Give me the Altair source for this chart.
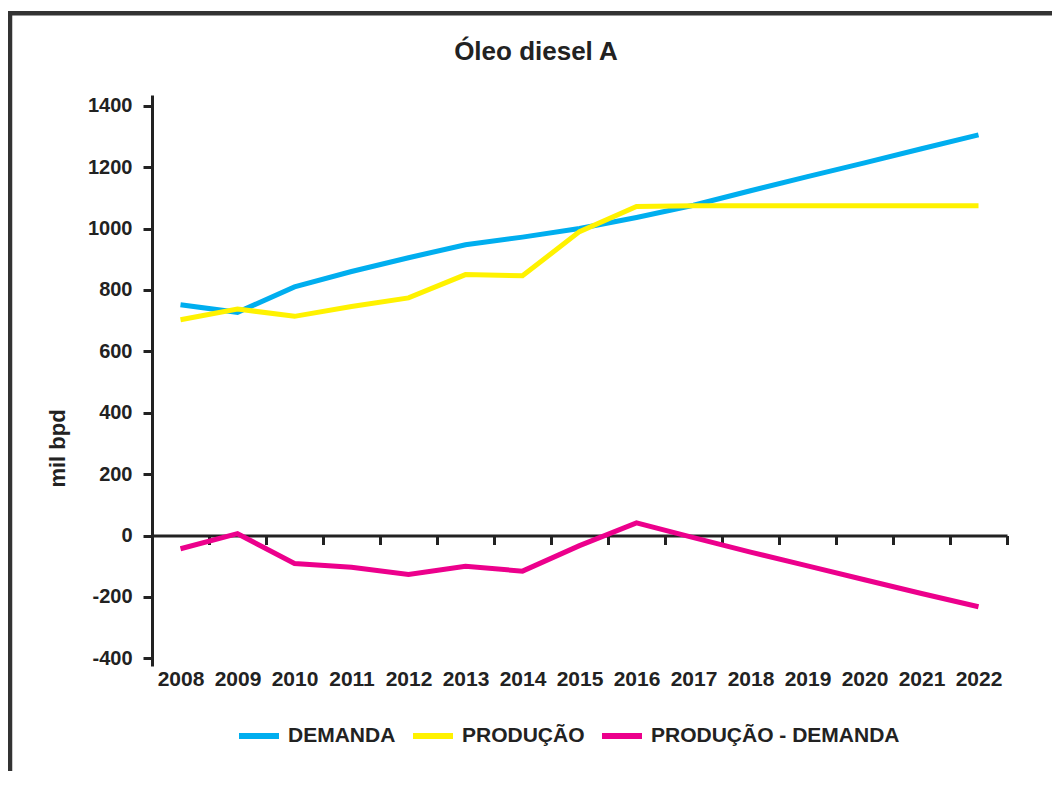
import altair as alt
import pandas as pd

years = [str(y) for y in range(2008, 2023)]
demanda = [752, 727, 810, 860, 905, 947, 972, 1000, 1036, 1076, 1123, 1169, 1214, 1260, 1305]
producao = [703, 738, 714, 746, 774, 850, 846, 990, 1072, 1074, 1074, 1074, 1074, 1074, 1074]
saldo = [-43, 6, -91, -103, -127, -100, -116, -33, 41, -7, -54, -99, -144, -189, -232]
series = ["DEMANDA", "PRODUÇÃO", "PRODUÇÃO - DEMANDA"]
colors = ["#00AEEF", "#FFF200", "#EC008C"]
y_ticks = [-400, -200, 0, 200, 400, 600, 800, 1000, 1200, 1400]
chart_title = "Óleo diesel A"
y_title = "mil bpd"

rows = []
for name, vals in zip(series, [demanda, producao, saldo]):
    for yr, v in zip(years, vals):
        rows.append({"ano": yr, "serie": name, "valor": v})
df = pd.DataFrame(rows)

FONT = "Liberation Sans"
INK = "#222222"
W, H = 855, 571

lines = alt.Chart(df).mark_line(strokeWidth=5).encode(
    x=alt.X(
        "ano:N",
        sort=years,
        bandPosition=0.5,
        scale=alt.Scale(type="band", paddingInner=0, paddingOuter=0),
        axis=alt.Axis(
            title=None, orient="bottom", offset=-130.5,
            domainColor=INK, domainWidth=3,
            tickColor=INK, tickWidth=3, tickSize=9, tickBand="extent",
            labelPadding=124, labelFont=FONT, labelFontSize=21,
            labelFontWeight="bold", labelColor=INK, labelAngle=0, grid=False,
        ),
    ),
    y=alt.Y(
        "valor:Q",
        scale=alt.Scale(domain=[-425, 1435], nice=False, zero=False),
        axis=alt.Axis(
            values=y_ticks, title=y_title, grid=False,
            labelExpr="'' + datum.value",
            domainColor=INK, domainWidth=3,
            tickColor=INK, tickWidth=3, tickSize=9,
            labelPadding=11, labelFont=FONT, labelFontSize=20,
            labelFontWeight="bold", labelColor=INK,
            titleFont=FONT, titleFontSize=22, titleFontWeight="bold",
            titleColor=INK, titleX=-95, titleY=353, titleBaseline="middle",
            titleAngle=270,
        ),
    ),
    color=alt.Color(
        "serie:N",
        sort=series,
        scale=alt.Scale(domain=series, range=colors),
        legend=alt.Legend(
            orient="none", legendX=84, legendY=618, direction="horizontal",
            title=None, symbolType="stroke", symbolSize=1600,
            symbolStrokeWidth=6, labelFont=FONT, labelFontSize=21,
            labelFontWeight="bold", labelColor=INK, columnPadding=5,
            labelOffset=6, padding=0, labelLimit=1000,
        ),
    ),
    order=alt.Order("ano:N"),
)

frame_data = alt.Data(values=[{"f": 1}])
vline = alt.Chart(frame_data).mark_rule(color="#333333", strokeWidth=4.5).encode(
    x=alt.value(-142), y=alt.value(-84), y2=alt.value(680)
)
hline = alt.Chart(frame_data).mark_rule(color="#333333", strokeWidth=4.5).encode(
    x=alt.value(-144), x2=alt.value(900), y=alt.value(-81.7)
)

title = alt.Chart(alt.Data(values=[{"t": chart_title}])).mark_text(
    font=FONT, fontSize=26, fontWeight="bold", color=INK,
    align="center", baseline="alphabetic",
).encode(text="t:N", x=alt.value(384), y=alt.value(-35))

chart = alt.layer(vline, hline, title, lines).properties(
    width=W,
    height=H,
    padding={"left": 144, "top": 87, "right": 45, "bottom": 105},
    autosize=alt.AutoSizeParams(type="none"),
).configure_view(stroke=None)

chart.save("out.html", embed_options={"renderer": "svg", "actions": False})
